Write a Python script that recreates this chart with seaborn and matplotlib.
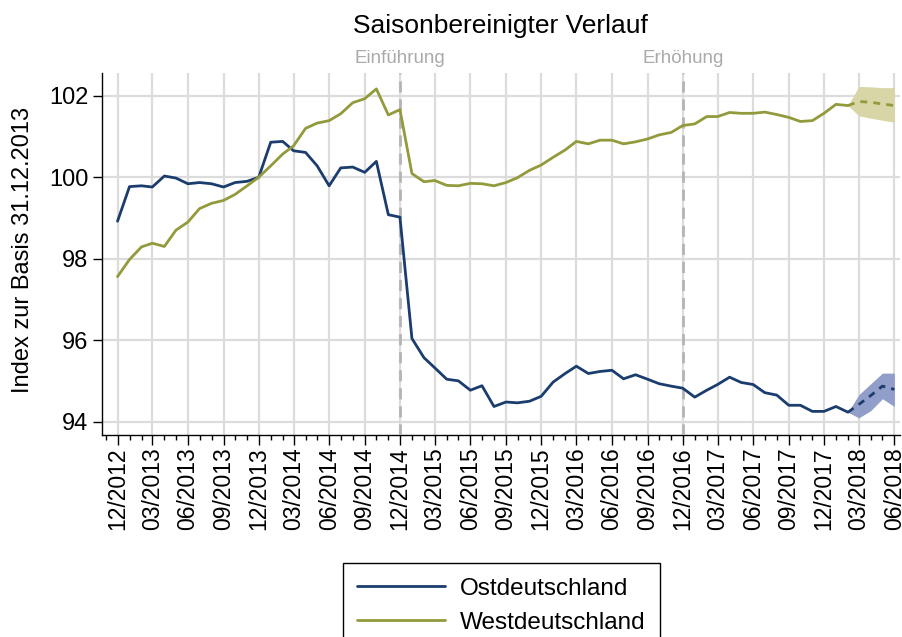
import seaborn as sns
import pandas as pd
import numpy as np
import matplotlib.pyplot as plt
import matplotlib.dates as mdates

## Data

months = pd.date_range("2012-12-01", "2018-06-01", freq="MS")

ost = [98.92, 99.77, 99.79, 99.76, 100.03, 99.98, 99.84, 99.87, 99.84, 99.76, 99.87, 99.90, 100.0,
       100.86, 100.88, 100.65, 100.61, 100.28, 99.79, 100.23, 100.25, 100.12, 100.39, 99.08, 99.02,
       96.04, 95.57, 95.32, 95.04, 95.00, 94.77, 94.88, 94.37, 94.48, 94.46, 94.50, 94.62,
       94.97, 95.18, 95.36, 95.18, 95.23, 95.26, 95.05, 95.15, 95.04, 94.93, 94.87, 94.82,
       94.60, 94.77, 94.91, 95.09, 94.96, 94.91, 94.71, 94.65, 94.40, 94.40, 94.25, 94.25, 94.37, 94.23]

west = [97.56, 97.98, 98.29, 98.38, 98.30, 98.70, 98.90, 99.23, 99.36, 99.43, 99.58, 99.79, 100.0,
        100.28, 100.57, 100.77, 101.20, 101.33, 101.39, 101.56, 101.83, 101.93, 102.17, 101.53, 101.66,
        100.09, 99.89, 99.92, 99.80, 99.79, 99.85, 99.84, 99.79, 99.87, 99.99, 100.17, 100.30,
        100.49, 100.67, 100.88, 100.82, 100.91, 100.91, 100.82, 100.87, 100.94, 101.04, 101.10, 101.27,
        101.31, 101.49, 101.49, 101.59, 101.57, 101.57, 101.60, 101.54, 101.47, 101.37, 101.39, 101.57, 101.79, 101.76]

# forecast, starting at the last observation (02/2018)
ost_fc = [94.23, 94.42, 94.64, 94.87, 94.79]
ost_fc_lo = [94.23, 94.09, 94.27, 94.56, 94.37]
ost_fc_hi = [94.23, 94.66, 94.93, 95.19, 95.19]

west_fc = [101.76, 101.86, 101.84, 101.80, 101.76]
west_fc_lo = [101.76, 101.51, 101.45, 101.40, 101.35]
west_fc_hi = [101.76, 102.23, 102.22, 102.20, 102.20]

events = ["2014-12-01", "2016-12-01"]
event_labels = ["Einführung", "Erhöhung"]

OST_COLOR = "#1b3d6e"
WEST_COLOR = "#939a3c"

## Build frames

n_obs = len(ost)
hist = pd.DataFrame({
    "month": list(months[:n_obs]) * 2,
    "value": ost + west,
    "region": ["Ostdeutschland"] * n_obs + ["Westdeutschland"] * n_obs,
})

fc_months = months[n_obs - 1:]
fc = pd.DataFrame({
    "month": list(fc_months) * 2,
    "value": ost_fc + west_fc,
    "lo": ost_fc_lo + west_fc_lo,
    "hi": ost_fc_hi + west_fc_hi,
    "region": ["Ostdeutschland"] * len(fc_months) + ["Westdeutschland"] * len(fc_months),
})

palette = {"Ostdeutschland": OST_COLOR, "Westdeutschland": WEST_COLOR}
band_colors = {"Ostdeutschland": "#919ec9", "Westdeutschland": "#d8d6a6"}

## Plot

sns.set_style("ticks")
plt.rcParams["font.family"] = ["Liberation Sans", "DejaVu Sans"]
for key in ["text.color", "axes.labelcolor", "xtick.color", "ytick.color"]:
    plt.rcParams[key] = "black"

fig = plt.figure(figsize=(9.02, 6.37), dpi=100)
ax = fig.add_axes([0.1127, 0.3171, 0.8853, 0.5683])

for region, sub in fc.groupby("region"):
    ax.fill_between(sub["month"], sub["lo"], sub["hi"], color=band_colors[region], lw=0, zorder=2)

sns.lineplot(data=hist, x="month", y="value", hue="region", palette=palette,
             linewidth=2.0, ax=ax, zorder=4)
sns.lineplot(data=fc, x="month", y="value", hue="region", palette=palette,
             linewidth=2.0, ax=ax, zorder=4, legend=False, dashes=False)
for line in ax.lines[-2:]:
    line.set_linestyle((0, (2.5, 2.2)))

for date, label in zip(events, event_labels):
    d = pd.Timestamp(date)
    ax.axvline(d, color="#b4b4b4", lw=2, ls=(0, (4, 2.5)), zorder=3)
    ax.text(d, 1.041, label, transform=ax.get_xaxis_transform(), ha="center", va="center",
            color="#aaaaaa", fontsize=13.5)

ax.set_xlim(pd.Timestamp("2012-10-21"), pd.Timestamp("2018-06-16"))
ax.set_ylim(93.67, 102.56)
ax.set_yticks([94, 96, 98, 100, 102])

ax.xaxis.set_major_locator(mdates.MonthLocator(bymonth=[3, 6, 9, 12]))
ax.xaxis.set_minor_locator(mdates.MonthLocator())
ax.xaxis.set_major_formatter(mdates.DateFormatter("%m/%Y"))

ax.grid(True, which="major", color="#dcdcdc", lw=1.6, zorder=0)
ax.set_axisbelow(True)

ax.tick_params(axis="x", which="major", labelsize=16.5, rotation=90, length=7, width=1, pad=2)
ax.tick_params(axis="x", which="minor", length=3.5, width=1)
ax.tick_params(axis="y", labelsize=17, length=6.5, width=1, pad=3)

ax.set_xlabel("")
ax.set_ylabel("Index zur Basis 31.12.2013", fontsize=17)
ax.yaxis.set_label_coords(-0.085, 0.51)

ax.set_title("Saisonbereinigter Verlauf", fontsize=19, pad=29)

sns.despine(ax=ax)
for side in ["left", "bottom"]:
    ax.spines[side].set_color("black")
    ax.spines[side].set_linewidth(1)

handles, labels = ax.get_legend_handles_labels()
ax.get_legend().remove()
fig.legend(handles[:2], labels[:2], loc="upper left", bbox_to_anchor=(0.38, 0.116),
           borderaxespad=0, frameon=True, fancybox=False, edgecolor="black",
           fontsize=17.5, handlelength=3.6, handletextpad=0.6, labelspacing=0.5,
           borderpad=0.6, framealpha=1)
leg = fig.legends[0]
leg.get_frame().set_linewidth(1)

fig.savefig("out.png", dpi=100)
